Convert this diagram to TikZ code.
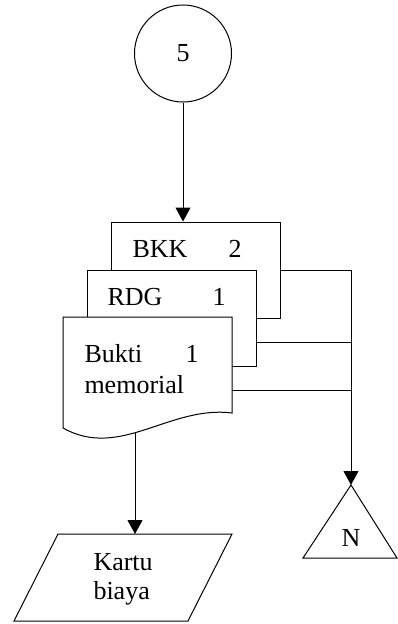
\documentclass[tikz,border=0pt]{standalone}
\usepackage{fontspec}
\setmainfont{Liberation Serif}
\usetikzlibrary{arrows.meta}
\begin{document}
\begin{tikzpicture}[x=1pt, y=-1pt, line width=1pt,
	flow/.style = {-{Triangle[length=14pt, width=15pt]}},
	lbl/.style = {inner sep=0pt, anchor=base west, font=\fontsize{26}{30}\selectfont},
	sheet/.style = {draw, fill=white, minimum width=169pt, minimum height=96pt, inner sep=0pt}]
	
	\useasboundingbox (0,0) rectangle (398,624);
	
	\node[draw, circle, minimum size=97pt, inner sep=0pt, font=\fontsize{26}{30}\selectfont] (c5) at (183,53.5) {5};
	
	\node[sheet] (bkk) at (195.5,270) {};
	\node[lbl] (bkk-t) at (132,257) {BKK};
	\node[lbl] (bkk-n) at (228,257) {2};
	
	\node[sheet] (rdg) at (172,318) {};
	\node[lbl] (rdg-t) at (107,305) {RDG};
	\node[lbl] (rdg-n) at (212,305) {1};
	
	\coordinate (bm-out) at (135,432);
	\coordinate (kartu-in) at (135,534);
	\draw[flow] (bm-out) -- (kartu-in);
	
	\draw[fill=white] (63,317) -- (232,317) -- (232,413) .. controls (170,405) and (120,460) .. (63,428) -- cycle;
	\node[lbl] (bm-t) at (84,362) {Bukti};
	\node[lbl] (bm-n) at (185,362) {1};
	\node[lbl] (bm-t2) at (84,393) {memorial};
	
	\draw (58,534) -- (232,534) -- (188,621) -- (14,621) -- cycle;
	\node[lbl] (kartu) at (93,570) {Kartu};
	\node[lbl] (kartu2) at (93,599) {biaya};
	
	\coordinate (bus) at (351,270);
	\coordinate (n-top) at (351,485);
	\draw (n-top) -- (303,558) -- (397,558) -- cycle;
	\node[inner sep=0pt, anchor=base, font=\fontsize{26}{30}\selectfont] (n) at (351,546) {N};
	
	\draw[flow] (c5) -- (c5 |- bkk.north);
	\draw (bkk.east) -- (bus);
	\draw ([yshift=-24pt]rdg.east) -- (bus |- 0,342);
	\draw (232,390) -- (bus |- 0,390);
	\draw[flow] (bus) -- (n-top);
	
\end{tikzpicture}
\end{document}
